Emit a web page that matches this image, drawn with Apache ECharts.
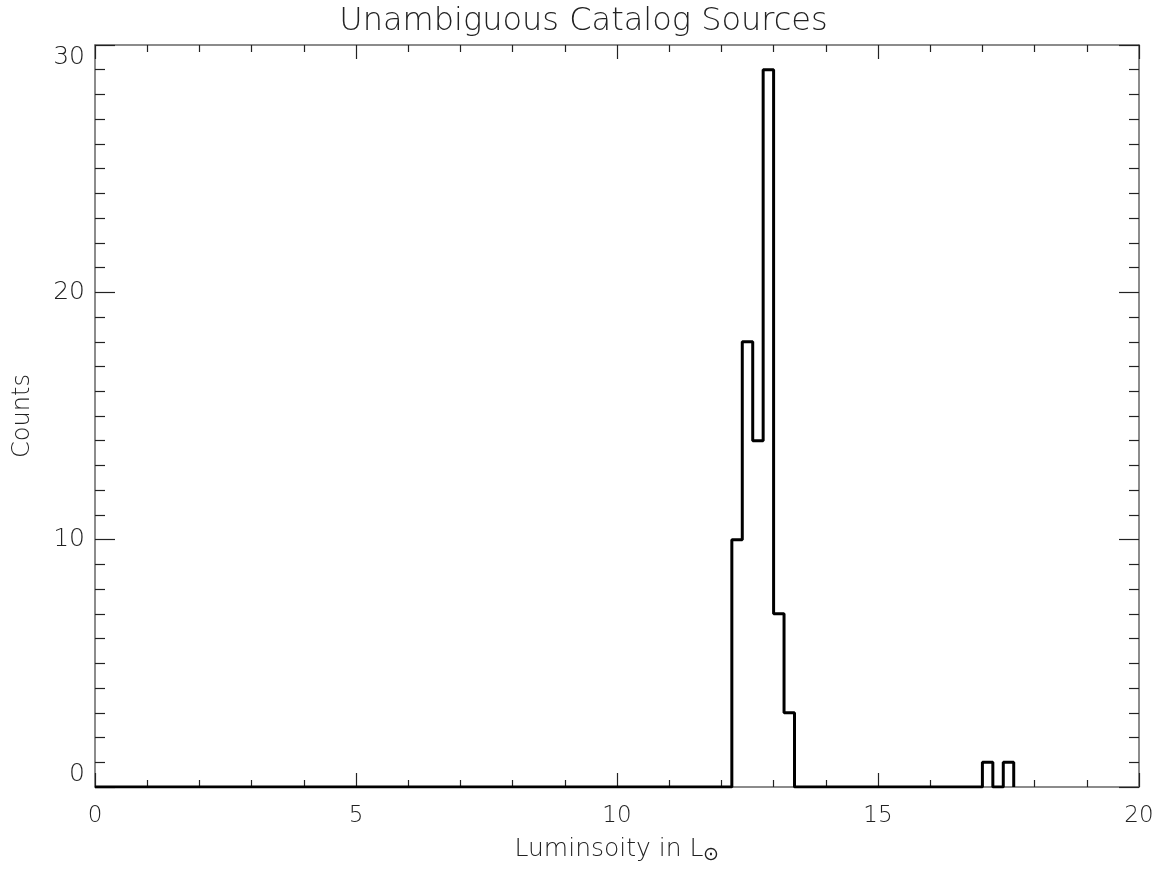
<!DOCTYPE html>
<html>
<head>
<meta charset="utf-8">
<script src="https://cdn.jsdelivr.net/npm/echarts@6/dist/echarts.min.js"></script>
<style>
  html, body { margin: 0; padding: 0; background: #fff; }
  #chart { width: 1167px; height: 869px; }
</style>
</head>
<body>
<div id="chart"></div>
<script>
// histogram outline: left edge of each interval and its count
const binEdges = [0, 12.2, 12.4, 12.6, 12.8, 13.0, 13.2, 13.4, 17.0, 17.2, 17.4, 17.6]
const counts = [0, 10, 18, 14, 29, 7, 3, 0, 1, 0, 1]
const xTicks = [0, 5, 10, 15, 20]
const yTicks = [0, 10, 20, 30]

const font = 'DejaVu Sans'
const axisGray = '#666'

// step points, last edge closes back to zero
const stepData = binEdges.map((e, i) => [e, i < counts.length ? counts[i] : 0])

const chart = echarts.init(document.getElementById('chart'))

const baseAxis = {
    type: 'value',
    axisLine: { show: true, onZero: false, lineStyle: { color: axisGray, width: 1.5 } },
    axisTick: { show: true, inside: true, lineStyle: { color: '#222', width: 1.2 } },
    minorTick: { show: true, lineStyle: { color: '#222', width: 1.2 } },
    splitLine: { show: false },
    minorSplitLine: { show: false }
}

chart.setOption({
    animation: false,
    title: {
        text: 'Unambiguous Catalog Sources',
        left: 'center',
        top: 1,
        textStyle: { fontFamily: font, fontWeight: 200, fontSize: 32, color: '#222' }
    },
    grid: { left: 95, right: 28, top: 45, bottom: 82, outerBoundsMode: 'none', containLabel: false },
    xAxis: [
        Object.assign({}, baseAxis, {
            min: xTicks[0], max: xTicks[xTicks.length - 1], interval: 5,
            position: 'bottom',
            axisTick: Object.assign({}, baseAxis.axisTick, { length: 14 }),
            minorTick: Object.assign({}, baseAxis.minorTick, { splitNumber: 5, length: 7 }),
            axisLabel: { margin: 18, fontFamily: font, fontWeight: 200, fontSize: 23, color: '#222' },
            name: 'Luminsoity in L{sub|⊙}',
            nameLocation: 'middle',
            nameGap: 47,
            nameTextStyle: {
                fontFamily: font, fontWeight: 200, fontSize: 25, color: '#222',
                rich: { sub: { fontFamily: font, fontSize: 19, color: '#222', verticalAlign: 'bottom', padding: [12, 0, 0, 0] } }
            }
        }),
        Object.assign({}, baseAxis, {
            min: xTicks[0], max: xTicks[xTicks.length - 1], interval: 5,
            position: 'top',
            axisTick: Object.assign({}, baseAxis.axisTick, { length: 14 }),
            minorTick: Object.assign({}, baseAxis.minorTick, { splitNumber: 5, length: 7 }),
            axisLabel: { show: false }
        })
    ],
    yAxis: [
        Object.assign({}, baseAxis, {
            min: yTicks[0], max: yTicks[yTicks.length - 1], interval: 10,
            position: 'left',
            axisTick: Object.assign({}, baseAxis.axisTick, { length: 20 }),
            minorTick: Object.assign({}, baseAxis.minorTick, { splitNumber: 10, length: 10 }),
            axisLabel: {
                margin: 10, fontFamily: font, fontWeight: 200, fontSize: 25, color: '#222',
                verticalAlignMinLabel: 'bottom', verticalAlignMaxLabel: 'top'
            },
            name: 'Counts',
            nameLocation: 'middle',
            nameGap: 60,
            nameTextStyle: { fontFamily: font, fontWeight: 200, fontSize: 24, color: '#222' }
        }),
        Object.assign({}, baseAxis, {
            min: yTicks[0], max: yTicks[yTicks.length - 1], interval: 10,
            position: 'right',
            axisTick: Object.assign({}, baseAxis.axisTick, { length: 20 }),
            minorTick: Object.assign({}, baseAxis.minorTick, { splitNumber: 10, length: 10 }),
            axisLabel: { show: false }
        })
    ],
    series: [{
        type: 'line',
        step: 'end',
        data: stepData,
        showSymbol: false,
        lineStyle: { color: '#000', width: 3 },
        z: 5
    }]
})

window.addEventListener('resize', function () {
    chart.resize()
})
</script>
</body>
</html>
